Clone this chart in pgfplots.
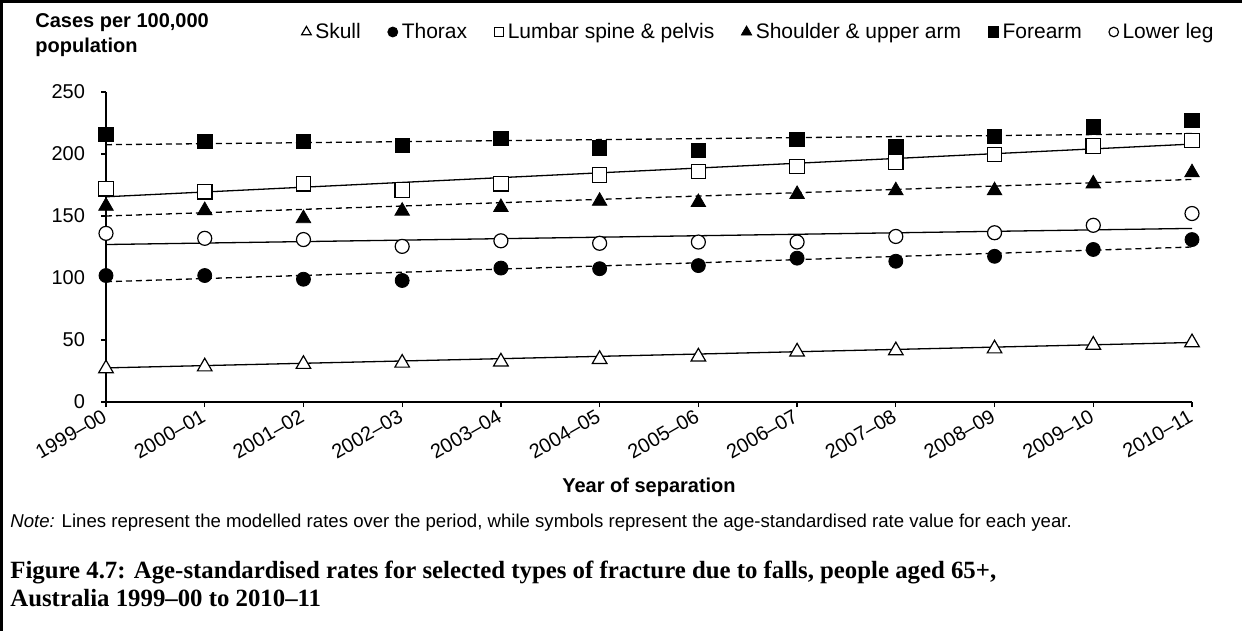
\documentclass[border=0pt]{standalone}
\usepackage{pgfplots}
\pgfplotsset{compat=1.18}
\usepackage{pgfplotstable}
\usepackage{fontspec}
\setmainfont{Liberation Sans}
\newfontfamily\capfont{Liberation Serif}

\pgfplotstableread{
x skull thorax lumbar shoulder forearm lowerleg
0 27 102 172 158 216 136
1 28.5 102 169.5 154.5 210 132
2 30.5 99 176 148 210 131
3 31.5 98 171 154 207 125.5
4 32.5 108 176 157 212.5 130
5 34.5 107.5 183 162 205 128
6 36.5 110 186 161 203 129
7 40.5 116 190 167.5 212 129
8 41.5 113.5 193.5 170.5 206 133.5
9 43 117.5 199.5 170.5 214 136.5
10 46 123 206.5 176 222 142.5
11 48 131 211 185 227 152
}\rates

\pgfplotstableread{
x skull thorax lumbar shoulder forearm lowerleg
0 27.5 97 165.5 150 207.5 127
11 48 125 208 179.5 216.5 140
}\trend

\begin{document}
\begin{tikzpicture}[x=1pt,y=1pt]
\path[use as bounding box] (0,0) rectangle (621,-315.5);
\draw[line width=1.5pt] (0.75,-315.5) -- (0.75,-0.75) -- (621,-0.75);
\begin{axis}[
  at={(53pt,-201pt)}, anchor=south west,
  scale only axis, width=543pt, height=155pt,
  xmin=0, xmax=11, ymin=0, ymax=250,
  axis x line*=bottom, axis y line*=left,
  axis line style={-, line width=0.6pt, black},
  xtick={0,...,11},
  xticklabels={1999–00,2000–01,2001–02,2002–03,2003–04,2004–05,2005–06,2006–07,2007–08,2008–09,2009–10,2010–11},
  ytick={0,50,100,150,200,250},
  tick align=outside, major tick length=2.5pt,
  tick style={black, line width=0.6pt},
  /pgf/number format/assume math mode=true,
  ticklabel style={font=\fontsize{10}{12}\selectfont},
  xticklabel style={rotate=30, anchor=east, yshift=-3pt, xshift=1pt},
  yticklabel style={xshift=-4.5pt},
  legend columns=6,
  legend style={draw=none, fill=none, at={(1,1)}, anchor=east, xshift=16pt, yshift=30pt,
    font=\fontsize{10.5}{12}\selectfont,
    /tikz/every even column/.append style={column sep=11.5pt},
    /tikz/every odd column/.append style={column sep=0pt}},
  legend image code/.code={\draw[mark repeat=2,mark phase=2,#1] plot coordinates {(0pt,0pt)(3.5pt,0pt)(7pt,0pt)};},
]
\addplot[black, line width=0.65pt, no marks, forget plot] table[x=x,y=skull]{\trend};
\addplot[black, line width=0.65pt, no marks, dash pattern=on 3pt off 2pt, forget plot] table[x=x,y=thorax]{\trend};
\addplot[black, line width=0.65pt, no marks, forget plot] table[x=x,y=lumbar]{\trend};
\addplot[black, line width=0.65pt, no marks, dash pattern=on 3pt off 2pt, forget plot] table[x=x,y=shoulder]{\trend};
\addplot[black, line width=0.65pt, no marks, dash pattern=on 3pt off 2pt, forget plot] table[x=x,y=forearm]{\trend};
\addplot[black, line width=0.65pt, no marks, forget plot] table[x=x,y=lowerleg]{\trend};

\addplot[only marks, mark=triangle*, mark size=4.2pt, mark options={fill=white, draw=black, line width=0.6pt}, legend image post style={mark size=2.8pt}] table[x=x,y=skull]{\rates};
\addlegendentry{Skull\strut}
\addplot[only marks, mark=*, mark size=3.5pt, mark options={fill=black, draw=black}, legend image post style={mark size=2.5pt}] table[x=x,y=thorax]{\rates};
\addlegendentry{Thorax\strut}
\addplot[only marks, mark=square*, mark size=3.6pt, mark options={fill=white, draw=black, line width=0.6pt}, legend image post style={mark size=2.4pt}] table[x=x,y=lumbar]{\rates};
\addlegendentry{Lumbar spine \& pelvis\strut}
\addplot[only marks, mark=triangle*, mark size=4.2pt, mark options={fill=black, draw=black}, legend image post style={mark size=3pt}] table[x=x,y=shoulder]{\rates};
\addlegendentry{Shoulder \& upper arm\strut}
\addplot[only marks, mark=square*, mark size=3.6pt, mark options={fill=black, draw=black}, legend image post style={mark size=2.6pt}] table[x=x,y=forearm]{\rates};
\addlegendentry{Forearm\strut}
\addplot[only marks, mark=*, mark size=3.5pt, mark options={fill=white, draw=black, line width=0.6pt}, legend image post style={mark size=2.4pt}] table[x=x,y=lowerleg]{\rates};
\addlegendentry{Lower leg\strut}
\end{axis}
\node[anchor=north west, align=left, font=\bfseries\fontsize{10}{12.5}\selectfont, inner sep=0pt] at (17.5,-6.5) {Cases per 100,000\\population};
\node[anchor=center, font=\bfseries\fontsize{10}{12}\selectfont, inner sep=0pt] at (324.5,-243.5) {Year of separation};
\node[anchor=west, font=\fontsize{9.3}{11}\selectfont, inner sep=0pt] at (5,-261.5) {\textit{Note:} Lines represent the modelled rates over the period, while symbols represent the age-standardised rate value for each year.};
\node[anchor=north west, align=left, font=\capfont\bfseries\fontsize{12.4}{14}\selectfont, inner sep=0pt] at (5,-280.5) {Figure 4.7: Age-standardised rates for selected types of fracture due to falls, people aged 65+,\\Australia 1999–00 to 2010–11};
\end{tikzpicture}
\end{document}
